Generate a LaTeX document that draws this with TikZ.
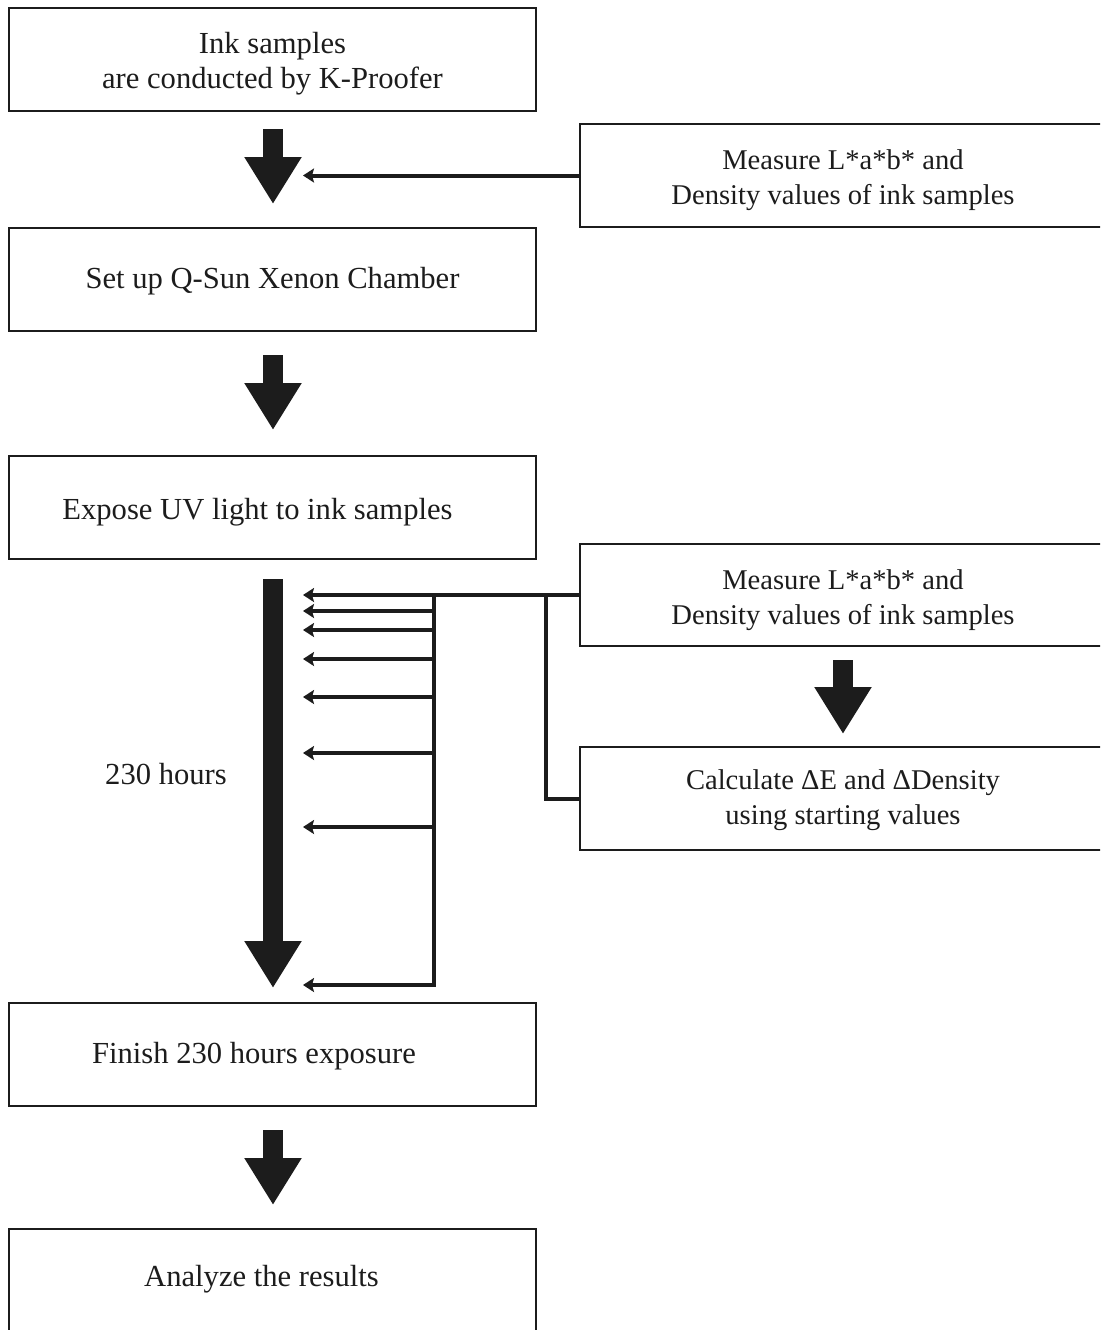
\documentclass[tikz,border=0pt]{standalone}
\usepackage{fontspec}
\setmainfont{Liberation Serif}
\usetikzlibrary{arrows.meta,calc}
\definecolor{ink}{HTML}{1C1C1C}
\begin{document}
\begin{tikzpicture}[x=0.5pt,y=-0.5pt,
  box/.style={draw=ink, line width=1pt, rectangle, anchor=north west,
    minimum width=263.5pt, minimum height=51.5pt, inner sep=0pt},
  rbox/.style={box, minimum width=263pt},
  btext/.style={text=ink, align=center, inner sep=0pt, font=\fontsize{15.3}{17.5}\selectfont},
  rtext/.style={text=ink, align=center, inner sep=0pt, font=\fontsize{14.3}{17.5}\selectfont},
  bigarrow/.style={line width=10pt, draw=ink, -{Triangle[length=23.5pt,width=27pt]}},
  thinarrow/.style={line width=2pt, draw=ink, -{Stealth[length=5.5pt,width=7pt,inset=1pt]}},
  thinline/.style={line width=2pt, draw=ink}]
\useasboundingbox (0,0) rectangle (1100,1330);
\clip (0,0) rectangle (1100,1330);
% main column boxes
\node[box] (b1) at (8,7) {};
\node[box] (b2) at (8,227) {};
\node[box] (b3) at (8,455) {};
\node[box] (b4) at (8,1002) {};
\node[box, minimum height=60pt] (b5) at (8,1228) {};
% right column boxes
\node[rbox] (m1) at (579,123) {};
\node[rbox, minimum height=51pt] (m2) at (579,543) {};
\node[rbox] (m3) at (579,746) {};
% texts
\node[btext] (t1) at ($(b1.center)+(0,4)$) {Ink samples\\are conducted by K-Proofer};
\node[btext] (t2) at ($(b2.center)+(0,2)$) {Set up Q-Sun Xenon Chamber};
\node[btext] (t3) at ($(b3.center)+(-15,5)$) {Expose UV light to ink samples};
\node[btext] (t4) at ($(b4.center)+(-18.5,2)$) {Finish 230 hours exposure};
\node[btext] (t5) at ($(b5.north)+(-11,51)$) {Analyze the results};
\node[rtext] (r1) at ($(m1.center)+(0,5)$) {Measure L*a*b* and\\Density values of ink samples};
\node[rtext] (r2) at ($(m2.center)+(0,5)$) {Measure L*a*b* and\\Density values of ink samples};
\node[rtext] (r3) at ($(m3.center)+(0,1.5)$) {Calculate ΔE and ΔDensity\\using starting values};
\node[btext] (hrs) at (166,774) {230 hours};
% big arrows
\draw[bigarrow] ($(b1.south)+(0.5,17)$) -- ($(b2.north)+(0.5,-23)$);
\draw[bigarrow] ($(b2.south)+(0.5,23)$) -- ($(b3.north)+(0.5,-25)$);
\draw[bigarrow] ($(b3.south)+(0.5,19)$) -- ($(b4.north)+(0.5,-14)$);
\draw[bigarrow] ($(b4.south)+(0.5,23)$) -- ($(b5.north)+(0.5,-23)$);
\draw[bigarrow] ($(m2.south)+(0,13)$) -- ($(m3.north)+(0,-12)$);
% thin arrows
\coordinate (ax) at (303,0);
\coordinate (v1) at (434,0);
\coordinate (v2) at (546,0);
\coordinate (vb) at (0,985);
\draw[thinarrow] (m1.west) -- (m1.west -| ax);
\draw[thinarrow] (m2.west) -- (m2.west -| ax);
\draw[thinline] (m2.west -| v2) |- (m3.west);
\draw[thinarrow] (m2.west -| v1) |- (vb -| ax);
\foreach \yy [count=\i] in {611,630,659,697,753,827} {
  \coordinate (s\i) at (434,\yy);
  \coordinate (e\i) at (303,\yy);
  \draw[thinarrow] (s\i) -- (e\i);
}
\end{tikzpicture}
\end{document}
